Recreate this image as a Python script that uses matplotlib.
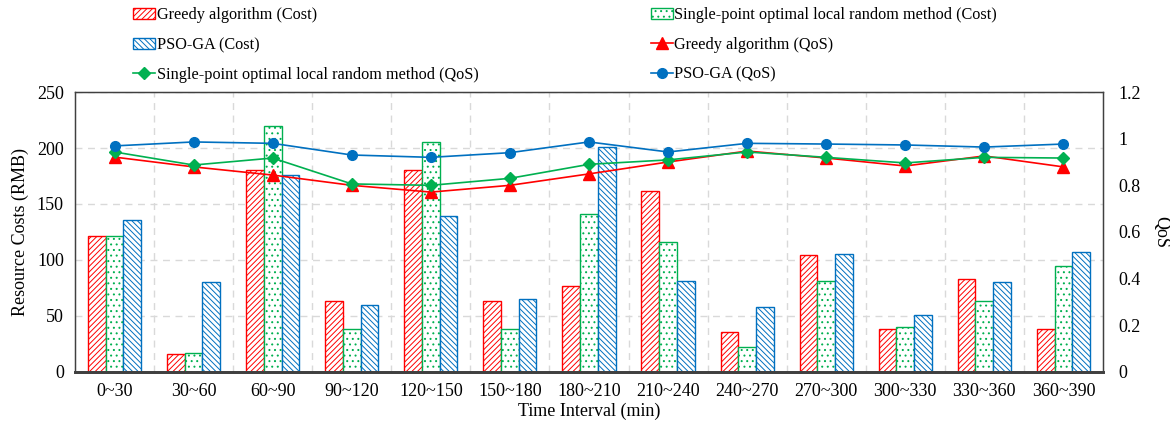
import numpy as np
import matplotlib
matplotlib.use("Agg")
import matplotlib.pyplot as plt

plt.rcParams['font.family'] = ['Liberation Serif', 'DejaVu Serif']
plt.rcParams['font.size'] = 13
plt.rcParams['hatch.linewidth'] = 0.7

# data
intervals = ['0~30', '30~60', '60~90', '90~120', '120~150', '150~180', '180~210',
             '210~240', '240~270', '270~300', '300~330', '330~360', '360~390']
greedy_cost = [121, 16, 180, 63, 180, 63, 77, 162, 36, 104, 38, 83, 38]
single_cost = [121, 17, 220, 38, 205, 38, 141, 116, 22, 81, 40, 63, 95]
psoga_cost = [136, 80, 176, 60, 139, 65, 201, 81, 58, 105, 51, 80, 107]
greedy_qos = [0.921, 0.879, 0.844, 0.80, 0.771, 0.80, 0.849, 0.90, 0.947, 0.917, 0.883, 0.926, 0.879]
single_qos = [0.943, 0.887, 0.917, 0.806, 0.80, 0.83, 0.89, 0.909, 0.943, 0.92, 0.896, 0.92, 0.917]
psoga_qos = [0.969, 0.986, 0.98, 0.93, 0.92, 0.94, 0.986, 0.943, 0.98, 0.977, 0.973, 0.964, 0.977]

red = '#FF0000'
green = '#00B050'
blue = '#0070C0'

fig = plt.figure(figsize=(11.7, 4.3), dpi=100)
ax = fig.add_subplot(111)
fig.subplots_adjust(left=0.0641, right=0.9427, top=0.786, bottom=0.135)

x = np.arange(len(intervals))
w = 0.224
b1 = ax.bar(x - w, greedy_cost, w, facecolor='white', edgecolor=red, hatch='//////',
            linewidth=1, label='Greedy algorithm (Cost)', zorder=2)
b2 = ax.bar(x, single_cost, w, facecolor='white', edgecolor=green, hatch='...',
            linewidth=1, label='Single-point optimal local random method (Cost)', zorder=2)
b3 = ax.bar(x + w, psoga_cost, w, facecolor='white', edgecolor=blue, hatch='\\\\\\\\\\\\',
            linewidth=1, label='PSO-GA (Cost)', zorder=2)

ax.set_xlim(-0.5, len(intervals) - 0.5)
ax.set_ylim(0, 250)
ax.set_yticks(range(0, 251, 50))
ax.set_xticks(x)
ax.set_xticklabels(intervals)
ax.set_xticks(x[:-1] + 0.5, minor=True)
ax.tick_params(which='both', length=0, pad=8)
ax.grid(axis='y', which='major', color='#d9d9d9', linestyle=(0, (5, 4)), linewidth=1, zorder=0)
ax.grid(axis='x', which='minor', color='#d9d9d9', linestyle=(0, (5, 4)), linewidth=1, zorder=0)
ax.set_axisbelow(True)
ax.set_ylabel('Resource Costs (RMB)', labelpad=6)
ax.set_xlabel('Time Interval (min)', labelpad=2)
for s in ax.spines.values():
    s.set_color('#404040')
    s.set_linewidth(1)
ax.spines['bottom'].set_linewidth(2)

ax2 = ax.twinx()
l1, = ax2.plot(x, greedy_qos, color=red, marker='^', markersize=8, linewidth=1.2,
               label='Greedy algorithm (QoS)')
l2, = ax2.plot(x, single_qos, color=green, marker='D', markersize=6, linewidth=1.2,
               label='Single-point optimal local random method (QoS)')
l3, = ax2.plot(x, psoga_qos, color=blue, marker='o', markersize=7, linewidth=1.2,
               label='PSO-GA (QoS)')
ax2.set_ylim(0, 1.2)
ax2.set_yticks([0, 0.2, 0.4, 0.6, 0.8, 1.0, 1.2])
ax2.set_yticklabels(['0', '0.2', '0.4', '0.6', '0.8', '1', '1.2'])
ax2.tick_params(length=0, pad=11)
ax2.set_ylabel('QoS', rotation=270, va='center', ha='center')
ax2.yaxis.set_label_coords(1.056, 0.5)
for s in ax2.spines.values():
    s.set_color('#404040')
ax2.spines['bottom'].set_linewidth(2)

handles = [b1, b3, l2, b2, l1, l3]
fig.legend(handles, [h.get_label() for h in handles], ncol=2, loc='upper left',
           bbox_to_anchor=(0.1012, 1.017), frameon=False, fontsize=11.7,
           handlelength=1.35, handletextpad=0.1, columnspacing=10.6, labelspacing=0.84)

fig.savefig('out.png', dpi=100)
